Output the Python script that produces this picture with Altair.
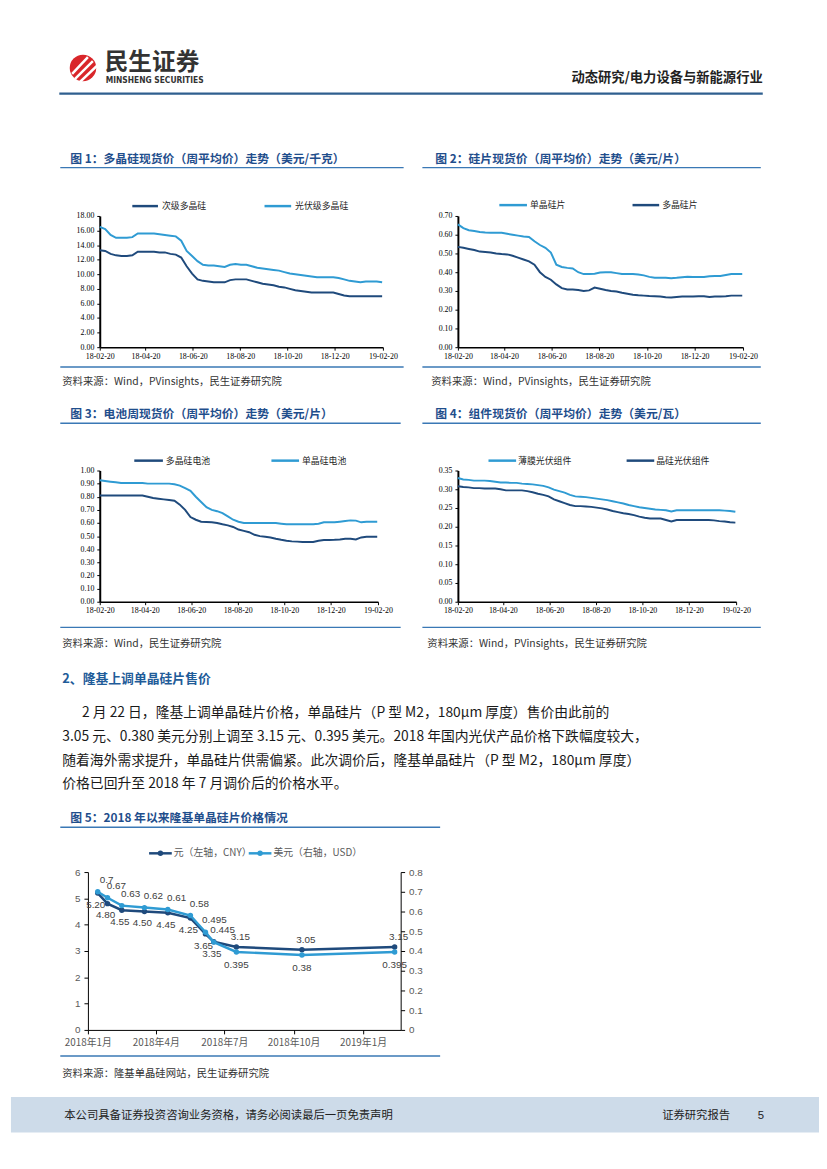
import altair as alt
import pandas as pd

# ---------------- data ----------------
weeks = pd.date_range("2018-02-20", periods=53, freq="7D").strftime("%Y-%m-%d").tolist()
tick_dates = ["2018-02-20", "2018-04-20", "2018-06-20", "2018-08-20",
              "2018-10-20", "2018-12-20", "2019-02-20"]

poly_names = ["次级多晶硅", "光伏级多晶硅"]
poly_secondary = [13.3, 13.2, 12.8, 12.6, 12.5, 12.5, 12.6, 13.1, 13.1, 13.1,
                  13.1, 13.0, 13.0, 12.8, 12.7, 12.3, 11.1, 10.1, 9.3, 9.1,
                  9.0, 8.9, 8.9, 8.9, 9.2, 9.3, 9.3, 9.3, 9.1, 8.9,
                  8.7, 8.6, 8.5, 8.3, 8.2, 8.0, 7.8, 7.7, 7.6, 7.5,
                  7.5, 7.5, 7.5, 7.5, 7.3, 7.1, 7.0, 7.0, 7.0, 7.0,
                  7.0, 7.0, 7.0]
poly_pv = [16.5, 16.2, 15.4, 15.0, 15.0, 15.0, 15.1, 15.6, 15.6, 15.6,
           15.6, 15.5, 15.4, 15.3, 15.2, 14.6, 13.2, 12.5, 11.8, 11.3,
           11.2, 11.2, 11.1, 11.0, 11.3, 11.4, 11.3, 11.3, 11.1, 10.9,
           10.8, 10.7, 10.6, 10.5, 10.3, 10.1, 10.0, 9.9, 9.8, 9.7,
           9.6, 9.6, 9.6, 9.6, 9.5, 9.3, 9.1, 9.0, 8.9, 9.0,
           9.0, 9.0, 8.9]
poly_ticks = [0, 2, 4, 6, 8, 10, 12, 14, 16, 18]

wafer_names = ["单晶硅片", "多晶硅片"]
wafer_mono = [0.655, 0.635, 0.624, 0.620, 0.615, 0.612, 0.611, 0.611, 0.610, 0.605,
              0.600, 0.595, 0.590, 0.588, 0.565, 0.545, 0.530, 0.505, 0.440, 0.428,
              0.423, 0.420, 0.400, 0.390, 0.390, 0.392, 0.398, 0.400, 0.400, 0.395,
              0.390, 0.390, 0.390, 0.388, 0.383, 0.375, 0.370, 0.370, 0.370, 0.368,
              0.370, 0.373, 0.376, 0.375, 0.375, 0.375, 0.378, 0.380, 0.380, 0.385,
              0.390, 0.390, 0.390]
wafer_multi = [0.535, 0.530, 0.524, 0.518, 0.510, 0.508, 0.505, 0.500, 0.497, 0.495,
               0.488, 0.478, 0.468, 0.458, 0.440, 0.400, 0.375, 0.360, 0.335, 0.315,
               0.308, 0.308, 0.305, 0.300, 0.303, 0.318, 0.312, 0.305, 0.300, 0.297,
               0.290, 0.285, 0.280, 0.277, 0.275, 0.273, 0.272, 0.270, 0.266, 0.265,
               0.268, 0.270, 0.270, 0.270, 0.272, 0.272, 0.268, 0.270, 0.270, 0.272,
               0.275, 0.275, 0.275]
wafer_ticks = [0.0, 0.1, 0.2, 0.3, 0.4, 0.5, 0.6, 0.7]

cell_names = ["多晶硅电池", "单晶硅电池"]
cell_multi = [0.81, 0.81, 0.81, 0.81, 0.81, 0.81, 0.81, 0.81, 0.81, 0.80,
              0.79, 0.785, 0.78, 0.775, 0.77, 0.74, 0.70, 0.645, 0.625, 0.61,
              0.608, 0.605, 0.60, 0.59, 0.582, 0.57, 0.55, 0.54, 0.53, 0.51,
              0.50, 0.495, 0.49, 0.48, 0.472, 0.465, 0.46, 0.458, 0.455, 0.455,
              0.455, 0.465, 0.47, 0.47, 0.472, 0.475, 0.48, 0.48, 0.475, 0.49,
              0.495, 0.495, 0.495]
cell_mono = [0.925, 0.92, 0.915, 0.91, 0.905, 0.905, 0.905, 0.905, 0.905, 0.90,
             0.90, 0.90, 0.90, 0.90, 0.895, 0.885, 0.865, 0.845, 0.80, 0.76,
             0.72, 0.70, 0.69, 0.675, 0.65, 0.625, 0.61, 0.60, 0.60, 0.60,
             0.60, 0.60, 0.60, 0.60, 0.595, 0.59, 0.59, 0.59, 0.59, 0.59,
             0.59, 0.595, 0.605, 0.605, 0.605, 0.61, 0.615, 0.62, 0.618, 0.605,
             0.61, 0.61, 0.61]
cell_ticks = [0.0, 0.1, 0.2, 0.3, 0.4, 0.5, 0.6, 0.7, 0.8, 0.9, 1.0]

module_names = ["薄膜光伏组件", "晶硅光伏组件"]
module_thin = [0.330, 0.326, 0.325, 0.323, 0.323, 0.323, 0.322, 0.320, 0.318, 0.318,
               0.317, 0.317, 0.315, 0.314, 0.313, 0.311, 0.309, 0.305, 0.299, 0.295,
               0.291, 0.285, 0.281, 0.280, 0.279, 0.277, 0.275, 0.273, 0.271, 0.268,
               0.265, 0.262, 0.258, 0.255, 0.252, 0.250, 0.248, 0.246, 0.245, 0.244,
               0.241, 0.244, 0.244, 0.244, 0.244, 0.244, 0.244, 0.244, 0.244, 0.244,
               0.243, 0.242, 0.240]
module_si = [0.308, 0.306, 0.305, 0.303, 0.303, 0.302, 0.302, 0.302, 0.300, 0.297,
             0.297, 0.297, 0.297, 0.295, 0.292, 0.288, 0.285, 0.281, 0.273, 0.268,
             0.263, 0.258, 0.255, 0.255, 0.254, 0.253, 0.251, 0.249, 0.246, 0.242,
             0.239, 0.236, 0.234, 0.231, 0.227, 0.224, 0.222, 0.222, 0.222, 0.218,
             0.214, 0.218, 0.218, 0.218, 0.218, 0.218, 0.218, 0.218, 0.217, 0.215,
             0.214, 0.212, 0.211]
module_ticks = [0.0, 0.05, 0.10, 0.15, 0.20, 0.25, 0.30, 0.35]

longi_names = ["元（左轴，CNY）", "美元（右轴，USD）"]
longi_dates = ["2018-01-14", "2018-01-27", "2018-02-15", "2018-03-17", "2018-04-17",
               "2018-05-17", "2018-06-06", "2018-06-17", "2018-07-17", "2018-10-12",
               "2019-02-12"]
longi_cny = [5.20, 4.80, 4.55, 4.50, 4.45, 4.25, 3.65, 3.35, 3.15, 3.05, 3.15]
longi_usd = [0.70, 0.67, 0.63, 0.62, 0.61, 0.58, 0.495, 0.445, 0.395, 0.38, 0.395]
longi_ticks = ["2018-01-01", "2018-04-01", "2018-07-01", "2018-10-01", "2019-01-01"]
longi_left_ticks = [0, 1, 2, 3, 4, 5, 6]
longi_right_ticks = [0, 0.1, 0.2, 0.3, 0.4, 0.5, 0.6, 0.7, 0.8]

# ---------------- styling ----------------
CJK = "Noto Sans CJK SC"
SERIF = "Liberation Serif"
SANS = "Liberation Sans"
DARK = "#1F4A7C"
LIGHT = "#2F9BD3"
TITLE_C = "#1F4E8C"
RULE_C = "#3A78B5"
ONE = pd.DataFrame({"k": [0]})
OFF = 8


def ms(s):
    return int(pd.Timestamp(s, tz="UTC").value // 10**6)


def T(s, x, y, size, color="#1a1a1a", weight="normal", font=CJK, align="left"):
    return alt.Chart(ONE).mark_text(align=align, baseline="middle", font=font,
                                    fontSize=size, fontWeight=weight, color=color).encode(
        x=alt.value(x - OFF), y=alt.value(y - OFF), text=alt.value(s))


def R(x1, x2, y, color=RULE_C, w=1.5, y2=None):
    enc = dict(x=alt.value(x1 - OFF), x2=alt.value(x2 - OFF), y=alt.value(y - OFF))
    if y2 is not None:
        enc["y2"] = alt.value(y2 - OFF)
    return alt.Chart(ONE).mark_rule(color=color, strokeWidth=w).encode(**enc)


def DOT(x, y, color, size):
    return alt.Chart(ONE).mark_circle(color=color, size=size, opacity=1).encode(
        x=alt.value(x - OFF), y=alt.value(y - OFF))


def sp(w=1, h=1):
    return alt.Chart(ONE).mark_point(opacity=0).encode(
        x=alt.value(0), y=alt.value(0)).properties(width=w, height=h)


# ---------------- weekly price charts ----------------
def price_chart(names, vals, colors, yticks, w, h):
    df = pd.concat([pd.DataFrame({"date": weeks, "series": n, "value": v})
                    for n, v in zip(names, vals)])
    x = alt.X("date:T", title=None,
              scale=alt.Scale(type="utc", domain=[ms(weeks[0]), ms(tick_dates[-1])]),
              axis=alt.Axis(values=[ms(d) for d in tick_dates], format="%y-%m-%d",
                            labelFlush=False, labelOverlap=False, grid=False,
                            domainColor="#000", domainWidth=1.5, tickColor="#000",
                            tickSize=3, labelFont=SERIF, labelFontSize=8,
                            labelColor="#000", labelPadding=2))
    y = alt.Y("value:Q", title=None,
              scale=alt.Scale(domain=[yticks[0], yticks[-1]], nice=False),
              axis=alt.Axis(values=yticks, format=".2f", grid=False,
                            domainColor="#000", domainWidth=2, tickColor="#000",
                            tickSize=3, labelFont=SERIF, labelFontSize=8,
                            labelColor="#000", labelPadding=3))
    layers = [alt.Chart(df).transform_filter(alt.datum.series == n)
              .mark_line(color=c, strokeWidth=2).encode(x=x, y=y)
              for n, c in zip(names, colors)]
    return alt.layer(*layers).properties(width=w, height=h)


c1 = price_chart(poly_names, [poly_secondary, poly_pv], [DARK, LIGHT], poly_ticks, 287, 133)
c2 = price_chart(wafer_names, [wafer_mono, wafer_multi], [LIGHT, DARK], wafer_ticks, 289, 133)
c3 = price_chart(cell_names, [cell_multi, cell_mono], [DARK, LIGHT], cell_ticks, 282, 133)
c4 = price_chart(module_names, [module_thin, module_si], [LIGHT, DARK], module_ticks, 282, 133)

# ---------------- LONGi chart ----------------
df5 = pd.DataFrame({"date": longi_dates, "cny": longi_cny, "usd": longi_usd})
AX5 = dict(grid=False, domainColor="#000", domainWidth=1, tickColor="#000", tickSize=4,
           labelColor="#595959", labelFontSize=10, labelPadding=4)
x5 = alt.X("date:T", title=None,
           scale=alt.Scale(type="utc", domain=[ms("2018-01-01"), ms("2019-02-20")],
                           range=[-12, 305]),
           axis=alt.Axis(values=[ms(d) for d in longi_ticks], format="%Y年%-m月",
                         labelFlush=False, labelOverlap=False, labelFont=CJK, **AX5))
yl = alt.Y("cny:Q", title=None, scale=alt.Scale(domain=[0, 6], nice=False),
           axis=alt.Axis(orient="left", offset=12, values=longi_left_ticks, format="d",
                         labelFont=SANS, **AX5))
yr = alt.Y("usd:Q", title=None, scale=alt.Scale(domain=[0, 0.8], nice=False),
           axis=alt.Axis(orient="right", offset=18, values=longi_right_ticks,
                         labelExpr="datum.value == 0 ? '0' : format(datum.value, '.1f')",
                         labelFont=SANS, **AX5))

base5 = alt.Chart(df5)
lab = dict(font=SANS, fontSize=10, color="#404040", baseline="middle")
left_grp = alt.layer(
    base5.mark_line(color=DARK, strokeWidth=2.5,
                    point=alt.OverlayMarkDef(color=DARK, size=30, filled=True)).encode(x=x5, y=yl),
    base5.transform_filter(alt.datum.cny > 3.2).mark_text(dx=-2, dy=12, **lab).encode(
        x=x5, y=yl, text=alt.Text("cny:Q", format=".2f")),
    base5.transform_filter(alt.datum.cny < 3.2).mark_text(dx=4, dy=-10, **lab).encode(
        x=x5, y=yl, text=alt.Text("cny:Q", format=".2f")),
)
right_grp = alt.layer(
    base5.mark_line(color=LIGHT, strokeWidth=2.5,
                    point=alt.OverlayMarkDef(color=LIGHT, size=30, filled=True)).encode(x=x5, y=yr),
    base5.transform_calculate(lbl="toString(datum.usd)").transform_filter(alt.datum.usd > 0.42)
    .mark_text(dx=9, dy=-12, **lab).encode(x=x5, y=yr, text="lbl:N"),
    base5.transform_calculate(lbl="toString(datum.usd)").transform_filter(alt.datum.usd < 0.42)
    .mark_text(dx=0, dy=13, **lab).encode(x=x5, y=yr, text="lbl:N"),
)
c5 = alt.layer(left_grp, right_grp).resolve_scale(y="independent").properties(width=287, height=160)

# ---------------- page decorations ----------------
src_pv = "资料来源：Wind，PVinsights，民生证券研究院"
deco_items = [
    # header
    DOT(81, 58, "#D9262A", 720),
    R(70, 86, 64, "#ffffff", 2.5, y2=47),
    R(73, 91, 69, "#ffffff", 2.5, y2=51),
    R(78, 95, 72, "#ffffff", 2.5, y2=56),
    T("民生证券", 103, 53, 24, "#333333", "bold"),
    T("MINSHENG SECURITIES", 104, 70, 8.5, "#333333", "bold", "DejaVu Sans Condensed"),
    T("动态研究/电力设备与新能源行业", 770, 68, 13.5, "#222222", "bold", align="right"),
    R(57, 770, 84, "#2F5F8F", 2.5),
    # chart 1
    T("图 1：多晶硅现货价（周平均价）走势（美元/千克）", 68, 150, 12, TITLE_C, "bold"),
    R(58, 406, 159),
    R(131, 157, 198, DARK, 2.5), T(poly_names[0], 161, 198, 9, "#262626"),
    R(265, 292, 198, LIGHT, 2.5), T(poly_names[1], 296, 198, 9, "#262626"),
    R(58, 406, 361),
    T(src_pv, 60, 376, 10.5, "#333333"),
    # chart 2
    T("图 2：硅片现货价（周平均价）走势（美元/片）", 438, 150, 12, TITLE_C, "bold"),
    R(425, 768, 159),
    R(503, 531, 197, LIGHT, 2.5), T(wafer_names[0], 534, 197, 9, "#262626"),
    R(638, 665, 197, DARK, 2.5), T(wafer_names[1], 668, 197, 9, "#262626"),
    R(425, 768, 361),
    T(src_pv, 434, 376, 10.5, "#333333"),
    # chart 3
    T("图 3：电池周现货价（周平均价）走势（美元/片）", 68, 409, 12, TITLE_C, "bold"),
    R(58, 403, 418),
    R(133, 162, 456, DARK, 2.5), T(cell_names[0], 165, 456, 9, "#262626"),
    R(272, 300, 456, LIGHT, 2.5), T(cell_names[1], 303, 456, 9, "#262626"),
    R(58, 403, 625),
    T("资料来源：Wind，民生证券研究院", 60, 641.5, 10.5, "#333333"),
    # chart 4
    T("图 4：组件现货价（周平均价）走势（美元/瓦）", 438, 409, 12, TITLE_C, "bold"),
    R(425, 768, 418),
    R(492, 520, 456, LIGHT, 2.5), T(module_names[0], 522, 456, 9, "#262626"),
    R(632, 660, 456, DARK, 2.5), T(module_names[1], 662, 456, 9, "#262626"),
    R(425, 768, 625),
    T(src_pv, 430, 641.5, 10.5, "#333333"),
    # section text
    T("2、隆基上调单晶硅片售价", 60, 677, 13, "#1F5C99", "bold"),
    T("2 月 22 日，隆基上调单晶硅片价格，单晶硅片（P 型 M2，180μm 厚度）售价由此前的", 80, 712, 14),
    T("3.05 元、0.380 美元分别上调至 3.15 元、0.395 美元。2018 年国内光伏产品价格下跌幅度较大，", 60, 736, 14),
    T("随着海外需求提升，单晶硅片供需偏紧。此次调价后，隆基单晶硅片（P 型 M2，180μm 厚度）", 60, 760, 14),
    T("价格已回升至 2018 年 7 月调价后的价格水平。", 60, 784, 14),
    # chart 5
    T("图 5：2018 年以来隆基单晶硅片价格情况", 68, 818, 12, TITLE_C, "bold"),
    R(58, 443, 827.5),
    R(148, 171, 854, DARK, 2.5), DOT(159.5, 854, DARK, 30),
    T(longi_names[0], 173, 854, 10, "#595959"),
    R(249, 272, 854, LIGHT, 2.5), DOT(260.5, 854, LIGHT, 30),
    T(longi_names[1], 274, 854, 10, "#595959"),
    R(58, 443, 1059.5),
    T("资料来源：隆基单晶硅网站，民生证券研究院", 60, 1078, 10.5, "#333333"),
]
footer = alt.Chart(ONE).mark_rect(color="#CDDBE9").encode(
    x=alt.value(0), x2=alt.value(819), y=alt.value(1101 - OFF), y2=alt.value(1137 - OFF))
deco_items = [footer] + deco_items + [
    T("本公司具备证券投资咨询业务资格，请务必阅读最后一页免责声明", 62, 1120, 11.5, "#222222"),
    T("证券研究报告", 668, 1120, 11.5, "#222222"),
    T("5", 765, 1120, 11.5, "#222222", font=SANS),
]
deco = alt.layer(*deco_items).properties(width=90, height=200)

cells = [
    deco, sp(287, 1), sp(76, 1), sp(289, 1), sp(60, 1),
    sp(), c1, sp(), c2, sp(),
    sp(1, 125), sp(), sp(), sp(), sp(),
    sp(), c3, sp(), c4, sp(),
    sp(1, 274), sp(), sp(), sp(), sp(),
    sp(), c5, sp(), sp(), sp(),
    sp(1, 120), sp(), sp(), sp(), sp(),
]

chart = alt.concat(*cells, columns=5, spacing=0, bounds="flush", align="each").properties(
    padding=0, background="#ffffff"
).configure_view(stroke=None)

chart.save("out.html", embed_options={"renderer": "svg", "actions": False})
